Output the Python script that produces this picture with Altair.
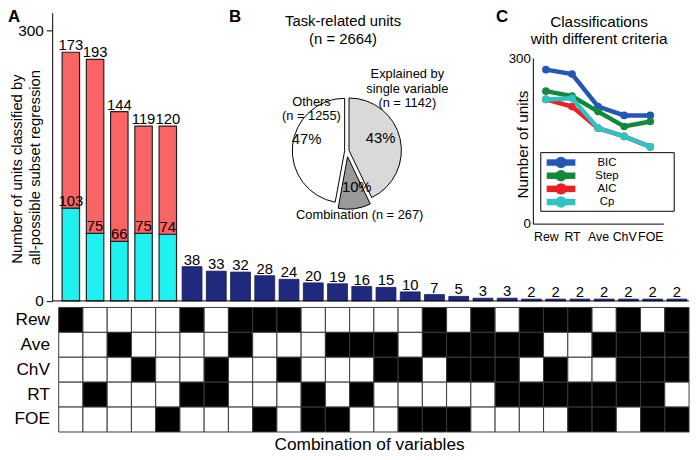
import altair as alt
import pandas as pd

FONT = "Liberation Sans"

# ---------------- values ----------------
matrix_rows = ["Rew", "Ave", "ChV", "RT", "FOE"]
single_vars = ["Rew", "RT", "Ave", "ChV", "FOE"]
single_lower = [103, 75, 66, 75, 74]        # cyan part
single_upper = [173, 193, 144, 119, 120]    # red part
combos = ["Rew+RT", "ChV+RT", "Rew+Ave", "Rew+FOE", "Rew+ChV", "RT+FOE", "Ave+FOE",
          "Ave+RT", "Ave+ChV", "ChV+FOE", "Rew+Ave+FOE", "Ave+ChV+FOE", "Rew+Ave+ChV",
          "Ave+ChV+RT", "Rew+Ave+RT", "Rew+ChV+RT", "Rew+RT+FOE", "Ave+RT+FOE",
          "Rew+Ave+ChV+RT", "Ave+ChV+RT+FOE", "Rew+Ave+ChV+FOE"]
combo_counts = [38, 33, 32, 28, 24, 20, 19, 16, 15, 10, 7, 5, 3, 3, 2, 2, 2, 2, 2, 2, 2]

pie_groups = ["Explained by single variable", "Combination", "Others"]
pie_counts = [1142, 267, 1255]

crit_names = ["BIC", "Step", "AIC", "Cp"]
crit_vars = ["Rew", "RT", "Ave", "ChV", "FOE"]
crit_bic = [279, 271, 212, 196, 196]
crit_step = [240, 231, 203, 176, 185]
crit_aic = [225, 212, 173, 158, 139]
crit_cp = [225, 227, 173, 158, 139]

# ---------------- tables ----------------
all_cols = single_vars + combos
single_df = pd.DataFrame({"col": single_vars, "lower": single_lower, "upper": single_upper})
combo_df = pd.DataFrame({"col": combos, "n": combo_counts})
mat_df = pd.DataFrame([{"col": c, "var": v, "on": int(v in c.split("+"))}
                       for c in all_cols for v in matrix_rows])
pie_df = pd.DataFrame({"group": pie_groups, "n": pie_counts, "order": list(range(len(pie_groups)))})
crit_values = {"BIC": crit_bic, "Step": crit_step, "AIC": crit_aic, "Cp": crit_cp}
crit_df = pd.DataFrame([{"crit": k, "var": v, "n": val}
                        for k in crit_names for v, val in zip(crit_vars, crit_values[k])])
legend_df = pd.DataFrame({"crit": crit_names})
one = pd.DataFrame({"k": [0]})

# ---------------- styles ----------------
CYAN, RED, NAVY, EDGE = "#1ff0f0", "#fa6464", "#1f2a7e", "#222222"
CRIT_COLORS = ["#2457b5", "#12883c", "#ec1f26", "#2fc4c4"]
PIE_FILLS = ["#d9d9d9", "#999999", "#ffffff"]

X_RANGE = [51.3, 689.0]

# ---------------- panel A: bars ----------------
def xA():
    return alt.Scale(domain=all_cols, range=X_RANGE, paddingInner=0, paddingOuter=0)


def yA():
    return alt.Scale(domain=[0, 320], range=[293.7, 2], nice=False)


yA_axis = alt.Axis(orient="left", offset=-44.7, values=[0, 300], tickSize=6, labelPadding=3,
                   labelFontSize=15.5, grid=False, title=None)


def xenc():
    return alt.X("col:N", scale=xA(), axis=None)


bar_lower = alt.Chart(single_df).mark_bar(
    fill=CYAN, stroke=EDGE, strokeWidth=1.2, width=alt.RelativeBandSize(0.72)
).encode(x=xenc(), y=alt.Y("lower:Q", scale=yA(), axis=yA_axis))

bar_upper = alt.Chart(single_df).transform_calculate(
    total="datum.lower + datum.upper"
).mark_bar(
    fill=RED, stroke=EDGE, strokeWidth=1.2, width=alt.RelativeBandSize(0.72)
).encode(x=xenc(), y=alt.Y("lower:Q", scale=yA(), axis=None), y2="total:Q")

bar_combo = alt.Chart(combo_df).mark_bar(
    fill=NAVY, stroke="#141a55", strokeWidth=0.8, width=alt.RelativeBandSize(0.82)
).encode(x=xenc(), y=alt.Y("n:Q", scale=yA(), axis=None))

txt_kw = dict(fontSize=15, font=FONT, baseline="alphabetic", dy=-2, color="black")
lab_upper = alt.Chart(single_df).transform_calculate(
    total="datum.lower + datum.upper"
).mark_text(**txt_kw).encode(x=xenc(), y=alt.Y("total:Q", scale=yA(), axis=None), text="upper:Q")
lab_lower = alt.Chart(single_df).mark_text(**txt_kw).encode(
    x=xenc(), y=alt.Y("lower:Q", scale=yA(), axis=None), text="lower:Q")
lab_combo = alt.Chart(combo_df).mark_text(**txt_kw).encode(
    x=xenc(), y=alt.Y("n:Q", scale=yA(), axis=None), text="n:Q")

baseline = alt.Chart(one).mark_rule(color="black", strokeWidth=1).encode(
    y=alt.Y(datum=0, scale=yA(), axis=None), x=alt.value(44.7), x2=alt.value(689.0))

# ---------------- panel A: combination matrix ----------------
matrix = alt.Chart(mat_df).mark_rect(stroke="#3a3a3a", strokeWidth=1).encode(
    x=alt.X("col:N", scale=alt.Scale(domain=all_cols, range=X_RANGE, paddingInner=0, paddingOuter=0),
            axis=alt.Axis(orient="bottom", offset=-25.7, labels=False, ticks=False, domain=False,
                          title="Combination of variables", titleFontSize=17.5,
                          titleFontWeight="normal", titlePadding=4, titleX=365.3,
                          titleAlign="center")),
    y=alt.Y("var:N", scale=alt.Scale(domain=matrix_rows, range=[300.3, 426.3],
                                     paddingInner=0, paddingOuter=0),
            axis=alt.Axis(orient="left", offset=-51.3, ticks=False, domain=False,
                          labelFontSize=17.5, labelPadding=9.3, title=None)),
    fill=alt.Fill("on:N", scale=alt.Scale(domain=[0, 1], range=["white", "black"]), legend=None),
)

# ---------------- panel B: exploded pie ----------------
total_units = sum(pie_counts)
pie_base = alt.Chart(pie_df).transform_window(
    cum="sum(n)", frame=[None, 0], sort=[alt.SortField("order")]
).transform_calculate(start="datum.cum - datum.n")
CX, CY = 342.8, 141.9
explode = {"Explained by single variable": (2.2, -0.5), "Combination": (0.75, 5.95),
           "Others": (-2.2, -0.2)}
slices = []
for g, fill in zip(pie_groups, PIE_FILLS):
    dx, dy = explode[g]
    slices.append(
        pie_base.transform_filter(alt.datum.group == g).mark_arc(
            radius=53, stroke="black", strokeWidth=1, fill=fill
        ).encode(theta=alt.Theta("start:Q", scale=alt.Scale(domain=[0, total_units],
                                                             range=[0, 6.283185307179586])),
                 theta2="cum:Q", x=alt.value(CX + dx), y=alt.value(CY + dy))
    )

# ---------------- panel C: criteria lines ----------------
def xC():
    return alt.Scale(domain=crit_vars, range=[531, 663], padding=0.5)


def yC():
    return alt.Scale(domain=[0, 300], range=[215.5, 48], nice=False)


def colC():
    return alt.Scale(domain=crit_names, range=CRIT_COLORS)


c_layers = []
for i, name in enumerate(crit_names):
    if i == 0:
        xax = alt.Axis(orient="bottom", offset=-236.5, ticks=False, labelPadding=7,
                       labelFontSize=12.5, labelAngle=0, title=None, grid=False)
        yax = alt.Axis(orient="left", offset=-531, values=[0, 300], ticks=False, labelPadding=2.5,
                       labelFontSize=13.5, grid=False, title="Number of units", titleFontSize=15.5,
                       titleFontWeight="normal", titleX=-2.5, titleY=135, titleAngle=270,
                       titleAlign="center", titleBaseline="bottom")
    else:
        xax, yax = None, None
    base = alt.Chart(crit_df).transform_filter(alt.datum.crit == name)
    c_layers.append(base.mark_line(strokeWidth=4.5).encode(
        x=alt.X("var:N", scale=xC(), axis=xax),
        y=alt.Y("n:Q", scale=yC(), axis=yax),
        color=alt.Color("crit:N", scale=colC(), legend=None)))
    c_layers.append(base.mark_point(filled=True, size=60, opacity=1).encode(
        x=alt.X("var:N", scale=xC(), axis=None),
        y=alt.Y("n:Q", scale=yC(), axis=None),
        color=alt.Color("crit:N", scale=colC(), legend=None)))


# legend of panel C
def yL():
    return alt.Scale(type="point", domain=crit_names, range=[153.7, 193.7], padding=0)


leg_box = alt.Chart(one).mark_rect(fill="white", stroke="black", strokeWidth=1).encode(
    x=alt.value(539), x2=alt.value(674), y=alt.value(143.7), y2=alt.value(203))
leg_line = alt.Chart(legend_df).mark_rule(strokeWidth=6.5).encode(
    y=alt.Y("crit:N", scale=yL(), axis=None), x=alt.value(545), x2=alt.value(574),
    color=alt.Color("crit:N", scale=colC(), legend=None))
leg_pt = alt.Chart(legend_df).mark_point(filled=True, size=133, opacity=1).encode(
    y=alt.Y("crit:N", scale=yL(), axis=None), x=alt.value(559.5),
    color=alt.Color("crit:N", scale=colC(), legend=None))
leg_txt = alt.Chart(legend_df).mark_text(fontSize=11.5, font=FONT, align="center",
                                         baseline="middle", color="black").encode(
    y=alt.Y("crit:N", scale=yL(), axis=None), x=alt.value(606), text="crit:N")


# ---------------- annotations ----------------
def note(text, x, y, size=15, align="center", weight="normal", line_height=None, angle=None):
    kw = dict(text=text, fontSize=size, font=FONT, align=align, baseline="alphabetic",
              fontWeight=weight, color="black")
    if line_height is not None:
        kw["lineHeight"] = line_height
    if angle is not None:
        kw["angle"] = angle
    return alt.Chart(one).mark_text(**kw).encode(x=alt.value(x), y=alt.value(y))


notes = [
    note("A", 0, 12, size=17, align="left", weight="bold"),
    note("B", 223.7, 12, size=17, align="left", weight="bold"),
    note("C", 493.7, 12, size=17, align="left", weight="bold"),
    note("Number of units classified by", 14, 160.3, angle=270),
    note("all-possible subset regression", 32.5, 158.7, angle=270),
    note(["Task-related units", "(n = 2664)"], 339, 15.3, line_height=18),
    note(["Explained by", "single variable", "(n = 1142)"], 404, 68, size=13, line_height=15),
    note(["Others", "(n = 1255)"], 307, 96.3, size=13, line_height=14),
    note("43%", 377, 133.7),
    note("47%", 302, 135.3),
    note("10%", 352.8, 183.7),
    note("Combination (n = 267)", 355.8, 211.3, size=13),
    note(["Classifications", "with different criteria"], 598, 17, size=15.5, line_height=16.7),
]

layers = ([matrix, bar_lower, bar_upper, bar_combo, lab_upper, lab_lower, lab_combo, baseline]
          + slices + c_layers + [leg_box, leg_line, leg_pt, leg_txt] + notes)

chart = alt.layer(*layers).resolve_scale(
    x="independent", y="independent", color="independent", fill="independent",
    theta="independent"
).properties(
    width=692, height=452, padding=0, autosize=alt.AutoSizeParams(type="none")
).configure_view(stroke=None).configure_axis(
    labelFont=FONT, titleFont=FONT, labelColor="black", titleColor="black",
    domainColor="black", tickColor="black", grid=False
)

chart.save("out.html", embed_options={"renderer": "svg", "actions": False})
